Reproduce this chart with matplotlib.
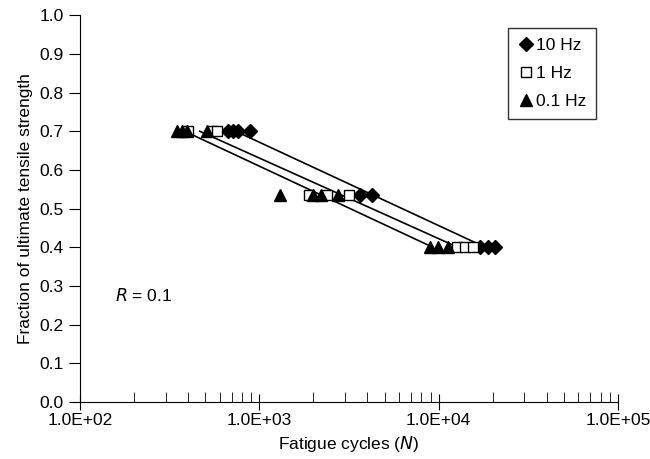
import numpy as np
import matplotlib.pyplot as plt
from matplotlib.ticker import FixedLocator, LogLocator, NullFormatter

plt.rcParams['font.family'] = ['Liberation Sans', 'DejaVu Sans']

# stress levels (fraction of UTS) and fatigue cycles
s_10hz = [0.70, 0.70, 0.70, 0.70, 0.535, 0.535, 0.40, 0.40, 0.40]
n_10hz = [669, 713, 760, 887, 3646, 4256, 17030, 18880, 20650]

s_1hz = [0.70, 0.70, 0.70, 0.535, 0.535, 0.535, 0.40, 0.40, 0.40]
n_1hz = [400, 545, 580, 1892, 2387, 3163, 12680, 14040, 15560]

s_01hz = [0.70, 0.70, 0.70, 0.70, 0.535, 0.535, 0.535, 0.535, 0.40, 0.40, 0.40]
n_01hz = [348, 371, 395, 511, 1303, 1995, 2210, 2748, 8953, 9930, 11280]

series = [
    ('10 Hz', s_10hz, n_10hz, 'D', 'black', 7),
    ('1 Hz', s_1hz, n_1hz, 's', 'white', 7.5),
    ('0.1 Hz', s_01hz, n_01hz, '^', 'black', 8.5),
]

fs = 12.5

fig = plt.figure(figsize=(6.5, 4.59), dpi=100)
ax = fig.add_axes([0.123, 0.124, 0.828, 0.843])

for label, s, n, mk, fc, ms in series:
    s = np.array(s)
    logn = np.log10(n)
    # straight fit of log N against stress level
    b, a = np.polyfit(s, logn, 1)
    s_fit = np.array([s.max(), s.min()])
    ax.plot(10 ** (a + b * s_fit), s_fit, color='black', lw=1.2, zorder=2)
    ax.plot(n, s, linestyle='none', marker=mk, markersize=ms,
            markerfacecolor=fc, markeredgecolor='black', markeredgewidth=1,
            label=label, zorder=3)

ax.set_xscale('log')
ax.set_xlim(1e2, 1e5)
ax.set_ylim(0, 1.0)
ax.xaxis.set_major_locator(FixedLocator([1e2, 1e3, 1e4, 1e5]))
ax.set_xticklabels(['1.0E+02', '1.0E+03', '1.0E+04', '1.0E+05'])
ax.xaxis.set_minor_locator(LogLocator(base=10, subs=np.arange(2, 10)))
ax.xaxis.set_minor_formatter(NullFormatter())
ax.set_yticks(np.arange(0, 1.01, 0.1))
ax.set_yticklabels(['%.1f' % v for v in np.arange(0, 1.01, 0.1)])

ax.spines['top'].set_visible(False)
ax.spines['right'].set_visible(False)
ax.tick_params(axis='x', which='major', direction='inout', length=12,
               labelsize=fs, pad=2)
ax.tick_params(axis='x', which='minor', direction='in', length=7)
ax.tick_params(axis='y', direction='out', length=8, labelsize=fs)

ax.set_xlabel('Fatigue cycles ($\\it{N}$)', fontsize=fs, labelpad=4)
ax.set_ylabel('Fraction of ultimate tensile strength', fontsize=fs,
              labelpad=5)

ax.text(0.065, 0.275, '$\\it{R}$ = 0.1', transform=ax.transAxes,
        fontsize=fs, va='center')

leg = ax.legend(loc='upper right', bbox_to_anchor=(0.959, 0.966),
                frameon=True, fancybox=False, fontsize=fs,
                handletextpad=0.1, handlelength=1.0, borderpad=0.55,
                labelspacing=0.75, borderaxespad=0)
leg.get_frame().set_edgecolor('black')
leg.get_frame().set_linewidth(1)

fig.savefig('out.png', dpi=100)
